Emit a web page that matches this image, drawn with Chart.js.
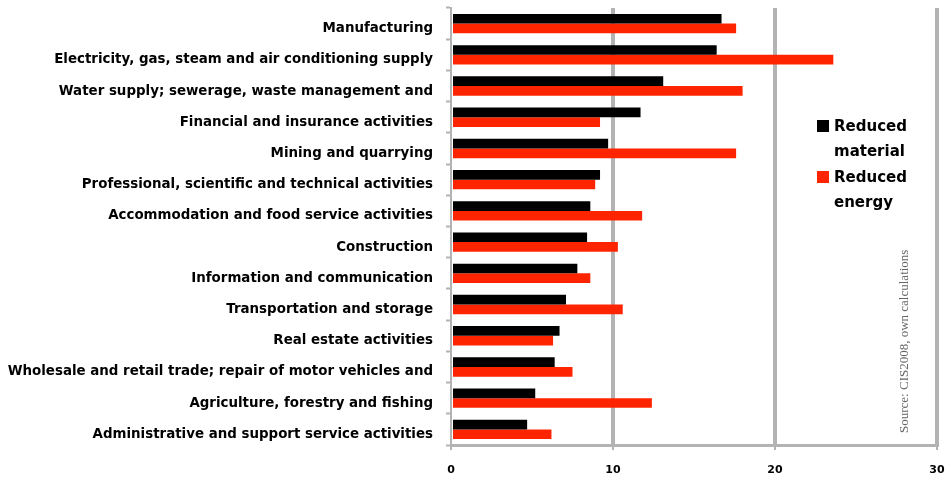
<!DOCTYPE html>
<html>
<head>
<meta charset="utf-8">
<script src="https://cdn.jsdelivr.net/npm/chart.js@4.4.0/dist/chart.umd.min.js"></script>
<style>
  html, body { margin: 0; padding: 0; background: #fff; }
  #wrap { width: 947px; height: 479px; }
</style>
</head>
<body>
<div id="wrap"><canvas id="grafico"></canvas></div>
<script>
// Sectores y valores por tipo de innovación
const sectores = [
  "Manufacturing",
  "Electricity, gas, steam and air conditioning supply",
  "Water supply; sewerage, waste management and",
  "Financial and insurance activities",
  "Mining and quarrying",
  "Professional, scientific and technical activities",
  "Accommodation and food service activities",
  "Construction",
  "Information and communication",
  "Transportation and storage",
  "Real estate activities",
  "Wholesale and retail trade; repair of motor vehicles and",
  "Agriculture, forestry and fishing",
  "Administrative and support service activities"
];
const material = [16.7, 16.4, 13.1, 11.7, 9.7, 9.2, 8.6, 8.4, 7.8, 7.1, 6.7, 6.4, 5.2, 4.7];
const energia  = [17.6, 23.6, 18.0, 9.2, 17.6, 8.9, 11.8, 10.3, 8.6, 10.6, 6.3, 7.5, 12.4, 6.2];
const ticksX = [0, 10, 20, 30];
const series = [["Reduced", "material"], ["Reduced", "energy"]];
const fuente = "Source: CIS2008, own calculations";

const colores = ['#000000', '#ff2400'];
const gris = '#b3b3b3';
const familia = '"DejaVu Sans", Verdana, sans-serif';

// leyenda a dos líneas y nota de fuente vertical
const extras = {
  id: 'extras',
  afterDraw(chart) {
    const ctx = chart.ctx;
    ctx.save();
    ctx.font = 'bold 15px ' + familia;
    ctx.textBaseline = 'middle';
    ctx.textAlign = 'left';
    series.forEach((lineas, i) => {
      const y0 = 127 + i * 51;
      ctx.fillStyle = colores[i];
      ctx.fillRect(817, y0 - 7, 12, 12);
      ctx.fillStyle = '#000';
      lineas.forEach((t, j) => ctx.fillText(t, 834, y0 + j * 25));
    });
    ctx.translate(905, 433);
    ctx.rotate(-Math.PI / 2);
    ctx.font = '13px "Liberation Serif", "Times New Roman", serif';
    ctx.fillStyle = '#666';
    ctx.fillText(fuente, 0, 0);
    ctx.restore();
  }
};

new Chart(document.getElementById('grafico').getContext('2d'), {
  type: 'bar',
  data: {
    labels: sectores,
    datasets: [
      { label: series[0].join(' '), data: material, backgroundColor: colores[0],
        categoryPercentage: 0.62, barPercentage: 1 },
      { label: series[1].join(' '), data: energia, backgroundColor: colores[1],
        categoryPercentage: 0.62, barPercentage: 1 }
    ]
  },
  options: {
    indexAxis: 'y',
    responsive: true,
    maintainAspectRatio: false,
    animation: false,
    layout: { padding: { top: 8, right: 10, left: 0, bottom: 0 } },
    plugins: { legend: { display: false }, tooltip: { enabled: false } },
    scales: {
      x: {
        min: 0, max: 30,
        afterBuildTicks: s => { s.ticks = ticksX.map(v => ({ value: v })); },
        afterFit: s => { s.height = 34; s.paddingLeft = 0; s.paddingRight = 0; },
        grid: {
          color: c => c.index === 0 ? 'rgba(0,0,0,0)' : gris,
          lineWidth: 4,
          drawTicks: true,
          tickLength: 5,
          tickColor: gris,
          tickWidth: 2
        },
        border: { color: gris, width: 3 },
        ticks: {
          padding: 14,
          color: '#000',
          font: { family: familia, size: 11, weight: 'bold' }
        }
      },
      y: {
        afterFit: s => { s.width = 451; s.paddingTop = 0; s.paddingBottom = 0; },
        grid: {
          drawOnChartArea: false,
          drawTicks: true,
          tickLength: 5,
          tickColor: gris,
          tickWidth: 2
        },
        border: { color: gris, width: 2 },
        ticks: {
          padding: 13,
          labelOffset: 5,
          autoSkip: false,
          color: '#000',
          font: { family: familia, size: 13.4, weight: 'bold' }
        }
      }
    }
  },
  plugins: [extras]
});
</script>
</body>
</html>
